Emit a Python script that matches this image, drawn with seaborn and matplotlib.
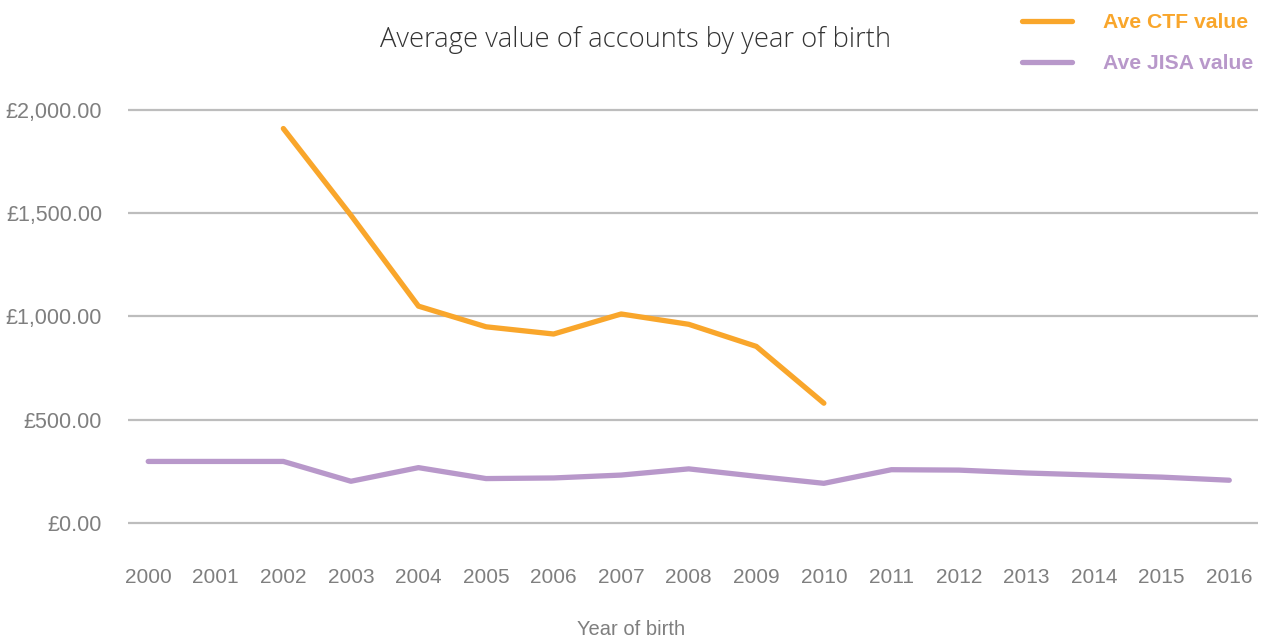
import numpy as np
import pandas as pd
import matplotlib
matplotlib.use("Agg")
import matplotlib.pyplot as plt
from matplotlib.lines import Line2D
from matplotlib.ticker import FuncFormatter
import seaborn as sns

years = list(range(2000, 2017))
ctf_years = [2002, 2003, 2004, 2005, 2006, 2007, 2008, 2009, 2010]
ctf_values = [1910, 1490, 1050, 950, 915, 1012, 962, 855, 580]
jisa_values = [298, 298, 298, 202, 268, 215, 218, 232, 262, 226, 192, 258, 256, 242, 232, 222, 207]
series_names = ["Ave CTF value", "Ave JISA value"]
y_ticks = [0, 500, 1000, 1500, 2000]

title = "Average value of accounts by year of birth"
x_label = "Year of birth"

c_ctf = "#F9A62B"
c_jisa = "#B898CA"

df = pd.concat([
    pd.DataFrame({"year": ctf_years, "value": ctf_values, "series": series_names[0]}),
    pd.DataFrame({"year": years, "value": jisa_values, "series": series_names[1]}),
])

sns.set_theme(style="white")
plt.rcParams["font.family"] = ["Liberation Sans", "DejaVu Sans"]

fig = plt.figure(figsize=(12.63, 6.41), dpi=100)
ax = fig.add_axes([0.1013, 0.1809, 0.8950, 0.6508])

sns.lineplot(data=df, x="year", y="value", hue="series",
             palette={series_names[0]: c_ctf, series_names[1]: c_jisa},
             linewidth=3.8, legend=False, ax=ax, zorder=3)

ax.set_xlim(1999.70, 2016.43)
ax.set_ylim(-10, 2010)
ax.set_xticks(years)
ax.set_xticklabels([str(y) for y in years])
ax.set_yticks(y_ticks)
ax.yaxis.set_major_formatter(FuncFormatter(lambda v, p: "£{:,.2f}".format(v)))
ax.grid(axis="y", color="#BDBDBD", linewidth=1.6)
ax.grid(axis="x", visible=False)
for s in ax.spines.values():
    s.set_visible(False)
ax.tick_params(axis="x", length=0, labelsize=15, colors="#7F7F7F", pad=31)
ax.tick_params(axis="y", length=0, labelsize=15.5, colors="#7F7F7F", pad=18.5)
ax.set_xlabel("")
ax.set_ylabel("")

fig.text(0.5, 0.0172, x_label, ha="center", va="center", fontsize=14.5, color="#7F7F7F")

fig.text(0.503, 0.938, title, ha="center", va="center", fontsize=19.7,
         color="#333333", family=["Open Sans", "DejaVu Sans"], fontweight="light")

handles = [Line2D([], [], color=c_ctf, lw=3.8), Line2D([], [], color=c_jisa, lw=3.8)]
leg = fig.legend(handles, series_names, loc="upper right",
                 bbox_to_anchor=(1.0075, 1.009), frameon=False,
                 handlelength=2.37, handletextpad=1.47, labelspacing=1.03,
                 prop={"weight": "bold", "size": 15.2})
for t, c in zip(leg.get_texts(), [c_ctf, c_jisa]):
    t.set_color(c)

fig.savefig("out.png", dpi=100)
